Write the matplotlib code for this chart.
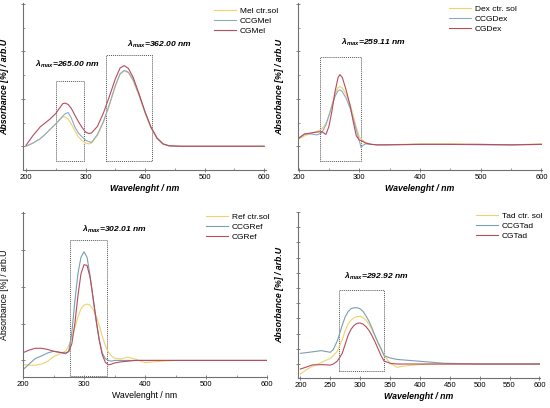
import matplotlib
matplotlib.use("Agg")
import matplotlib.pyplot as plt
from matplotlib.patches import Rectangle
from matplotlib.ticker import MultipleLocator

plt.rcParams['font.family'] = ['Liberation Sans', 'DejaVu Sans']
plt.rcParams['mathtext.fontset'] = 'custom'
plt.rcParams['mathtext.it'] = 'Liberation Sans:italic:bold'
plt.rcParams['mathtext.rm'] = 'Liberation Sans:bold'

YELLOW = '#eed36a'
BLUE = '#8ea9c6'
BLUE2 = '#7a9fae'
RED = '#b84b5e'

# --- Melatonin (top left) ---
mel_wl = [200, 212, 224, 232, 240, 250, 256, 262, 266, 271, 276, 282, 288, 294, 300,
          305, 310, 320, 330, 340, 350, 358, 365, 372, 380, 390, 400, 410, 420, 430,
          440, 460, 500, 550, 600]
mel_ctr = [0.0, 0.07, 0.16, 0.25, 0.35, 0.48, 0.56, 0.62, 0.62, 0.57, 0.47, 0.33, 0.20,
           0.12, 0.07, 0.05, 0.07, 0.23, 0.50, 0.86, 1.26, 1.52, 1.59, 1.55, 1.38, 1.06,
           0.70, 0.38, 0.17, 0.05, 0.01, 0.0, 0.0, 0.0, 0.0]
mel_ccg = [0.0, 0.07, 0.16, 0.25, 0.35, 0.47, 0.55, 0.64, 0.69, 0.71, 0.60, 0.41, 0.28,
           0.20, 0.13, 0.10, 0.08, 0.25, 0.52, 0.88, 1.28, 1.53, 1.60, 1.56, 1.40, 1.08,
           0.72, 0.40, 0.18, 0.05, 0.01, 0.0, 0.0, 0.0, 0.0]
mel_cg = [0.02, 0.23, 0.41, 0.49, 0.57, 0.69, 0.80, 0.90, 0.91, 0.88, 0.80, 0.66, 0.52,
          0.40, 0.30, 0.27, 0.28, 0.42, 0.70, 1.05, 1.42, 1.65, 1.70, 1.64, 1.45, 1.10,
          0.72, 0.40, 0.17, 0.05, 0.01, 0.0, 0.0, 0.0, 0.0]

# --- Dexamethasone (top right) ---
dex_wl = [200, 210, 220, 230, 238, 245, 250, 255, 260, 265, 268, 272, 278, 285, 290,
          295, 300, 303, 306, 310, 320, 330, 340, 400, 450, 500, 550, 600]
dex_ctr = [0.15, 0.22, 0.27, 0.31, 0.36, 0.48, 0.65, 0.88, 1.10, 1.24, 1.26, 1.23, 1.10,
           0.88, 0.65, 0.40, 0.20, 0.15, 0.12, 0.08, 0.04, 0.03, 0.03, 0.05, 0.05, 0.04,
           0.03, 0.05]
dex_ccg = [0.17, 0.26, 0.26, 0.24, 0.28, 0.45, 0.65, 0.85, 1.05, 1.17, 1.19, 1.15, 1.02,
           0.80, 0.58, 0.35, 0.12, -0.03, 0.02, 0.05, 0.04, 0.03, 0.03, 0.04, 0.04, 0.03,
           0.03, 0.04]
dex_cg = [0.17, 0.26, 0.28, 0.30, 0.31, 0.25, 0.42, 0.75, 1.15, 1.45, 1.51, 1.45, 1.20,
          0.85, 0.52, 0.22, 0.13, 0.12, 0.10, 0.07, 0.04, 0.03, 0.03, 0.04, 0.04, 0.04,
          0.03, 0.04]

# --- Refampicin (bottom left) ---
ref_wl = [200, 210, 220, 230, 240, 250, 260, 270, 275, 280, 285, 290, 295, 300, 305,
          310, 315, 320, 325, 330, 335, 340, 345, 350, 360, 372, 385, 400, 420, 450,
          500, 550, 600]
ref_ctr = [-0.11, -0.13, -0.13, -0.10, -0.03, 0.10, 0.18, 0.25, 0.40, 0.60, 0.88, 1.18,
           1.40, 1.50, 1.53, 1.50, 1.38, 1.20, 0.95, 0.65, 0.40, 0.22, 0.12, 0.06, 0.04,
           0.09, 0.03, -0.06, -0.03, 0.0, 0.0, 0.0, 0.0]
ref_ccg = [-0.25, -0.10, 0.05, 0.12, 0.20, 0.25, 0.22, 0.18, 0.25, 0.75, 1.60, 2.35,
           2.80, 2.95, 2.80, 2.30, 1.65, 1.05, 0.55, 0.20, 0.05, 0.0, -0.02, 0.0, 0.0,
           0.0, 0.0, 0.0, 0.0, 0.0, 0.0, 0.0, 0.0]
ref_cg = [0.21, 0.28, 0.33, 0.33, 0.30, 0.25, 0.22, 0.20, 0.24, 0.45, 1.00, 1.75, 2.35,
          2.60, 2.58, 2.25, 1.70, 1.10, 0.55, 0.15, -0.05, -0.12, -0.10, -0.07, -0.04,
          -0.02, 0.0, 0.0, 0.0, 0.0, 0.0, 0.0, 0.0]

# --- Tadalafil (bottom right) ---
tad_wl = [200, 210, 220, 235, 250, 255, 262, 270, 275, 280, 285, 290, 295, 300, 305,
          310, 315, 320, 325, 330, 335, 340, 350, 362, 375, 400, 440, 500, 550, 600]
tad_ctr = [-0.66, -0.38, -0.15, 0.10, 0.37, 0.55, 0.85, 1.60, 2.20, 2.65, 2.90, 3.05,
           3.12, 3.14, 3.05, 2.88, 2.60, 2.25, 1.85, 1.40, 0.99, 0.60, 0.05, -0.22,
           -0.13, -0.03, 0.0, 0.0, 0.0, 0.0]
tad_ccg = [0.70, 0.75, 0.80, 0.88, 0.77, 0.95, 1.54, 2.55, 3.10, 3.45, 3.65, 3.70, 3.70,
           3.63, 3.45, 3.15, 2.80, 2.35, 1.85, 1.40, 1.00, 0.55, 0.40, 0.30, 0.26, 0.18,
           0.05, 0.0, 0.0, 0.0]
tad_cg = [-0.33, -0.20, -0.06, -0.04, -0.07, 0.0, 0.20, 0.70, 1.30, 1.90, 2.30, 2.55,
          2.68, 2.70, 2.62, 2.45, 2.20, 1.85, 1.45, 1.00, 0.55, 0.20, 0.05, 0.0, 0.0,
          0.0, 0.0, 0.0, 0.0, 0.0]

W, H = 550, 408


def make_axes(fig, left, right, top, bottom):
    return fig.add_axes([left / W, (H - bottom) / H, (right - left) / W, (bottom - top) / H])


def style_axes(ax, xlim, ylim, xstep, ymajor, yminor, bold):
    ax.set_xlim(*xlim)
    ax.set_ylim(*ylim)
    for s in ['top', 'right']:
        ax.spines[s].set_visible(False)
    for s in ['left', 'bottom']:
        ax.spines[s].set_color('#707070')
        ax.spines[s].set_linewidth(0.8)
    ax.xaxis.set_major_locator(MultipleLocator(xstep))
    ax.xaxis.set_minor_locator(MultipleLocator(xstep / 2))
    ax.yaxis.set_major_locator(MultipleLocator(ymajor))
    if yminor:
        ax.yaxis.set_minor_locator(MultipleLocator(yminor))
    ax.set_yticklabels([])
    ax.tick_params(which='major', direction='inout', length=3, width=0.6,
                   color='#707070', labelsize=5.5, pad=1.5)
    ax.tick_params(which='minor', direction='in', length=1.5, width=0.5, color='#707070')
    kw = dict(fontsize=6.3)
    if bold:
        kw.update(fontweight='bold', fontstyle='italic')
    ax.set_xlabel('Wavelenght / nm', labelpad=2, **kw)
    ax.set_ylabel('Absorbance [%] / arb.U', **kw)
    ax.yaxis.set_label_coords(-0.058, 0.5)


def draw(ax, wl, series, labels, colors, boxes, notes, legend_xy):
    for y, lab, c in zip(series, labels, colors):
        ax.plot(wl, y, color=c, lw=0.8, label=lab)
    for x0, x1, y0, y1 in boxes:
        ax.add_patch(Rectangle((x0, y0), x1 - x0, y1 - y0, fill=False, ec='#555555',
                               lw=0.7, ls=(0, (1, 1))))
    for x, y, val in notes:
        ax.text(x, y, r'$\lambda_{max}$=' + val + ' nm', fontsize=6.1, fontweight='bold',
                fontstyle='italic', va='center')
    ax.legend(loc='upper left', bbox_to_anchor=(legend_xy[0] / W, (H - legend_xy[1]) / H),
              bbox_transform=ax.figure.transFigure, frameon=False, fontsize=6,
              handlelength=2.6, handletextpad=0.5, labelspacing=0.25, borderpad=0,
              borderaxespad=0)


fig = plt.figure(figsize=(5.5, 4.08), dpi=100)

ax1 = make_axes(fig, 23, 266, 3, 170)
style_axes(ax1, (195, 603), (-0.5, 3.02), 100, 1, 0.5, True)
draw(ax1, mel_wl, [mel_ctr, mel_ccg, mel_cg], ['Mel ctr.sol', 'CCGMel', 'CGMel'],
     [YELLOW, BLUE, RED], [(250, 297, -0.32, 1.37), (335, 411, -0.32, 1.93)],
     [(215, 1.72, '265.00'), (370, 2.15, '362.00')], (214, 7))

ax2 = make_axes(fig, 298, 542, 3, 170)
style_axes(ax2, (199, 601), (-0.5, 3.02), 100, 1, 0.5, True)
draw(ax2, dex_wl, [dex_ctr, dex_ccg, dex_cg], ['Dex ctr. sol', 'CCGDex', 'CGDex'],
     [YELLOW, BLUE, RED], [(236, 303, -0.32, 1.89)],
     [(270, 2.18, '259.11')], (449, 5))

ax3 = make_axes(fig, 23, 267, 212, 377)
style_axes(ax3, (200, 600), (-0.45, 4.03), 100, 1, None, False)
draw(ax3, ref_wl, [ref_ctr, ref_ccg, ref_cg], ['Ref ctr.sol', 'CCGRef', 'CGRef'],
     [YELLOW, BLUE2, RED], [(277, 338, -0.41, 3.28)],
     [(297, 3.57, '302.01')], (206, 213))

ax4 = make_axes(fig, 298, 540, 212, 378)
style_axes(ax4, (196, 601), (-0.92, 10.0), 50, 1, None, True)
ax4.xaxis.set_minor_locator(MultipleLocator(50))
draw(ax4, tad_wl, [tad_ctr, tad_ccg, tad_cg], ['Tad ctr. sol', 'CCGTad', 'CGTad'],
     [YELLOW, BLUE2, RED], [(264, 340, -0.48, 4.84)],
     [(273, 5.76, '292.92')], (476, 212))

fig.savefig('out.png', dpi=100)
